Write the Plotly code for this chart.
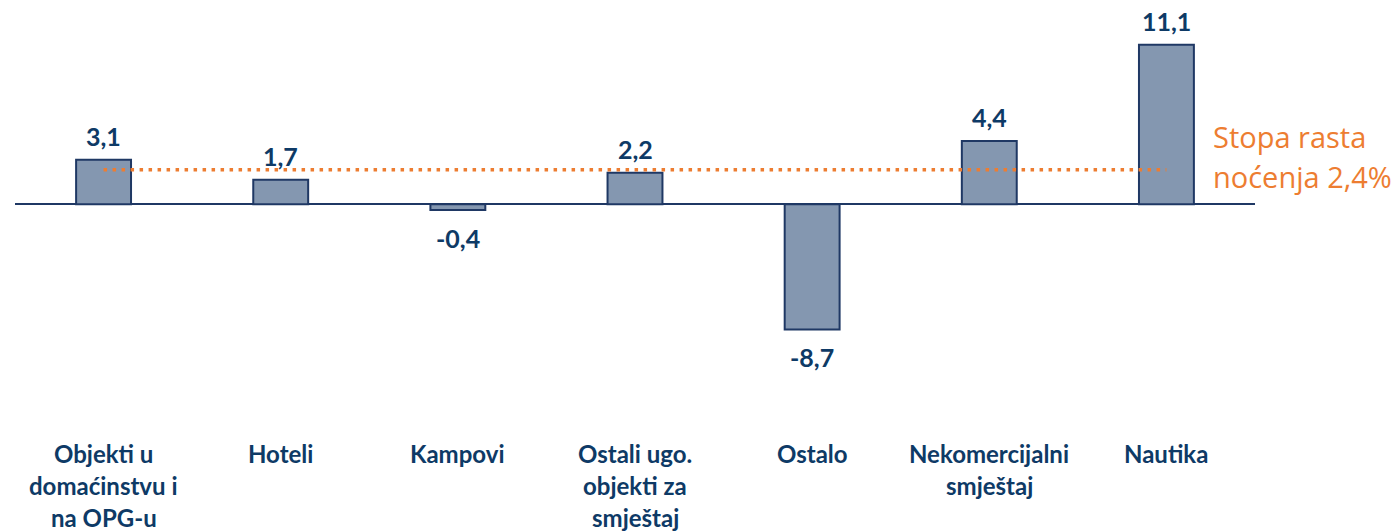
import plotly.graph_objects as go

categories = ["Objekti u domaćinstvu i na OPG-u", "Hoteli", "Kampovi",
              "Ostali ugo. objekti za smještaj", "Ostalo",
              "Nekomercijalni smještaj", "Nautika"]
label_lines = [["Objekti u", "domaćinstvu i", "na OPG-u"], ["Hoteli"], ["Kampovi"],
               ["Ostali ugo.", "objekti za", "smještaj"], ["Ostalo"],
               ["Nekomercijalni", "smještaj"], ["Nautika"]]
values = [3.1, 1.7, -0.4, 2.2, -8.7, 4.4, 11.1]
avg_rate = 2.4
avg_label = ["Stopa rasta", "noćenja 2,4%"]

NAVY = "#0E3A66"
ORANGE = "#ED7D31"
FONT = "Lato"

fig = go.Figure()
fig.add_trace(go.Bar(
    x=categories, y=values,
    marker=dict(color="#8497B0", line=dict(color="#1F3864", width=2)),
    hoverinfo="skip",
))
fig.add_trace(go.Scatter(
    x=[categories[0], categories[-1]], y=[avg_rate, avg_rate],
    mode="lines", line=dict(color=ORANGE, width=3.5, dash="3.5px,5.5px"),
    hoverinfo="skip",
))

annotations = []
for c, v in zip(categories, values):
    txt = f"{v:.1f}".replace(".", ",")
    if v >= 0:
        annotations.append(dict(x=c, y=v, text=txt, showarrow=False, yanchor="bottom",
                                yshift=7, font=dict(family=FONT, size=25, color=NAVY, weight="bold")))
    else:
        annotations.append(dict(x=c, y=v, text=txt, showarrow=False, yanchor="top",
                                yshift=-11, font=dict(family=FONT, size=25, color=NAVY, weight="bold")))
for c, lines in zip(categories, label_lines):
    for i, ln in enumerate(lines):
        annotations.append(dict(x=c, xref="x", y=0, yref="paper", text=ln, showarrow=False,
                                yanchor="middle", yshift=-15 - 32 * i,
                                font=dict(family=FONT, size=24, color=NAVY, weight="bold")))
for i, ln in enumerate(avg_label):
    annotations.append(dict(x=1.0, xref="paper", y=avg_rate, yref="y", text=ln, showarrow=False,
                            xanchor="left", yanchor="middle", xshift=-44, yshift=33 - 40 * i,
                            font=dict(family="Open Sans", size=29, color=ORANGE)))

fig.update_layout(
    width=1396, height=531,
    margin=dict(l=15, r=141, t=8, b=93),
    plot_bgcolor="white", paper_bgcolor="white",
    showlegend=False, bargap=0.69,
    xaxis=dict(showticklabels=False, showgrid=False, zeroline=False, showline=False),
    yaxis=dict(range=[-16.25, 13.65], showticklabels=False, showgrid=False,
               zeroline=True, zerolinecolor="#1F3864", zerolinewidth=2, showline=False),
    annotations=annotations,
)
fig.write_html("out.html", config={"displayModeBar": False},
               post_script="document.body.style.margin='0px';document.body.style.overflow='hidden';")
